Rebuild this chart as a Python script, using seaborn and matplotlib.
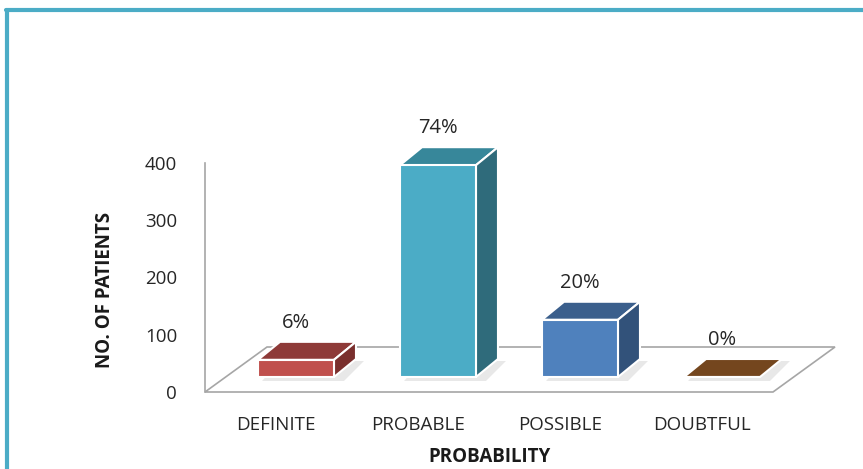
import matplotlib
matplotlib.use("Agg")
import matplotlib.pyplot as plt
from matplotlib.patches import Polygon
from matplotlib.lines import Line2D
import seaborn as sns
import pandas as pd

# ---- data ----
categories = ["DEFINITE", "PROBABLE", "POSSIBLE", "DOUBTFUL"]
patients = [30, 370, 100, 0]
pct_labels = ["6%", "74%", "20%", "0%"]
y_ticks = [0, 100, 200, 300, 400]

front_colors = ["#C0504D", "#4BACC6", "#4F81BD", "#74461E"]
top_colors = ["#8E3A38", "#37879A", "#3B5F8C", "#74461E"]
side_colors = ["#7A2F2D", "#2F6B7B", "#32527A", "#5E3816"]

sns.set_theme(style="white")
plt.rcParams["font.family"] = ["Open Sans", "DejaVu Sans"]

W, H = 863, 469
fig = plt.figure(figsize=(W / 100, H / 100), dpi=100)
ax = fig.add_axes([205 / W, 77 / H, 568 / W, 229 / H])

df = pd.DataFrame({"cat": categories, "n": patients})
sns.barplot(data=df, x="cat", y="n", hue="cat", palette=front_colors,
            legend=False, width=0.535, edgecolor="white", linewidth=1.5,
            saturation=1, ax=ax, zorder=4)
ax.set_xlim(-0.5, 3.5)
ax.set_ylim(0, 400)
bars = list(ax.patches)

# pixel -> data unit conversion
bbox = ax.get_window_extent()
ux = bbox.width / 4.0
uy = bbox.height / 400.0

def dx(px):
    return px / ux

def dy(px):
    return px / uy

# floor (3-D base plane)
fx, fy = dx(62), dy(45)
floor = Polygon([(-0.5, 0), (3.5, 0), (3.5 + fx, fy), (-0.5 + fx, fy)],
                closed=True, facecolor="white", edgecolor="#A6A6A6",
                linewidth=1.2, zorder=1, clip_on=False)
ax.add_patch(floor)

# bars: shift front faces to mid-depth, add top/side faces
sx, sy = dx(20), dy(15)
bx, by = dx(22), dy(18)
for i, p in enumerate(bars):
    x0 = p.get_x() + sx
    w = p.get_width()
    h = p.get_height()
    b = sy
    p.set_x(x0)
    p.set_y(b)
    p.set_clip_on(False)
    x1 = x0 + w
    t = b + h
    # soft shadow under the bar
    sh = Polygon([(x0 + dx(4), b - dy(4)), (x1 + dx(10), b - dy(4)),
                  (x1 + bx + dx(8), b + by - dy(2)), (x0 + bx, b + by - dy(2))],
                 closed=True, facecolor="#DADADA", edgecolor="none",
                 alpha=0.6, zorder=2, clip_on=False)
    ax.add_patch(sh)
    top = Polygon([(x0, t), (x1, t), (x1 + bx, t + by), (x0 + bx, t + by)],
                  closed=True, facecolor=top_colors[i], edgecolor="white",
                  linewidth=1.5, zorder=5, clip_on=False)
    ax.add_patch(top)
    if h > 0:
        side = Polygon([(x1, b), (x1 + bx, b + by), (x1 + bx, t + by), (x1, t)],
                       closed=True, facecolor=side_colors[i], edgecolor="white",
                       linewidth=1.5, zorder=5, clip_on=False)
        ax.add_patch(side)
    p.set_zorder(6)
    ax.text(x0 + w / 2, t + dy(37), pct_labels[i], ha="center", va="center",
            fontsize=14.5, color="#262626", zorder=7)

# axes styling
for s in ["top", "right", "bottom"]:
    ax.spines[s].set_visible(False)
ax.spines["left"].set_color("#A6A6A6")
ax.spines["left"].set_linewidth(1.2)
ax.set_yticks(y_ticks)
ax.set_yticklabels([str(v) for v in y_ticks])
ax.tick_params(axis="y", length=0, pad=20, labelsize=13.5, labelcolor="#262626")
ax.tick_params(axis="x", length=0, pad=17, labelsize=13.5, labelcolor="#262626")
ax.set_xlabel("PROBABILITY", fontsize=13.5, fontweight="bold", color="#1a1a1a")
ax.set_ylabel("NO. OF PATIENTS", fontsize=13.5, fontweight="bold", color="#1a1a1a")
ax.xaxis.set_label_coords(0.5, (12 - 77) / 229)
ax.xaxis.label.set_va("center")
ax.yaxis.set_label_coords((105 - 205) / 568, (179 - 77) / 229)
ax.yaxis.label.set_va("center")
ax.patch.set_visible(False)

# teal frame (top and left)
teal = "#4BACC6"
fig.add_artist(Line2D([6 / W, 1.0], [1 - 10 / H, 1 - 10 / H], color=teal,
                      linewidth=3, transform=fig.transFigure))
fig.add_artist(Line2D([7 / W, 7 / W], [0, 1 - 10 / H], color=teal,
                      linewidth=3, transform=fig.transFigure))

fig.savefig("out.png", dpi=100, facecolor="white")
